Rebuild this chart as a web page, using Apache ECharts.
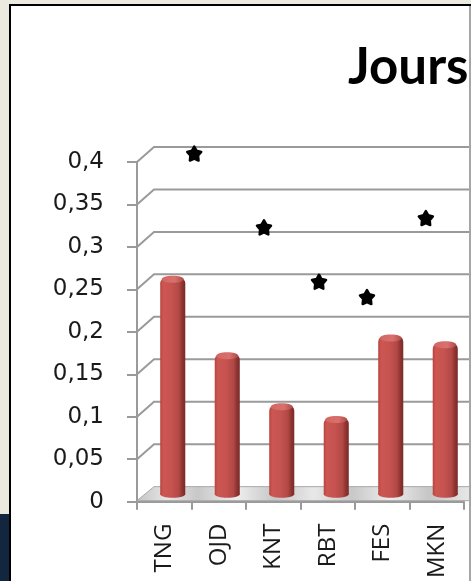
<!DOCTYPE html>
<html>
<head>
<meta charset="utf-8">
<script src="https://cdn.jsdelivr.net/npm/echarts@6/dist/echarts.min.js"></script>
<style>
  html, body { margin: 0; padding: 0; background: #fff; }
  #chart { width: 471px; height: 581px; }
</style>
</head>
<body>
<div id="chart"></div>
<script>
// Stations and their values
const categories = ['TNG', 'OJD', 'KNT', 'RBT', 'FES', 'MKN'];
const barValues = [0.253, 0.163, 0.103, 0.088, 0.184, 0.176];

// Star markers: position along the category span (0..6) and value
const starPositions = [1.05, 2.33, 3.34, 4.22, 5.30];
const starValues = [0.41, 0.323, 0.259, 0.241, 0.334];

// Value axis ticks
const yTicks = [0, 0.05, 0.1, 0.15, 0.2, 0.25, 0.3, 0.35, 0.4];

// Depth of the 3D box (pixels)
const DX = 17, DY = -15;
const GRID_COLOR = '#9a9a9a';

const STAR_PATH = 'path://M50 0 L66.2 27.8 L97.6 34.5 L76.2 58.5 L79.4 90.5 L50 77.5 L20.6 90.5 L23.8 58.5 L2.4 34.5 L33.8 27.8 Z';

function renderFrame(params, api) {
  const children = [];
  const l0 = api.coord([0, 0]);
  const r0 = api.coord([6, 0]);
  // floor
  children.push({
    type: 'polygon',
    shape: { points: [[l0[0], l0[1] - 1], [r0[0] + 40, l0[1] - 1], [r0[0] + 40 + DX, l0[1] + DY], [l0[0] + DX, l0[1] + DY]] },
    style: {
      fill: new echarts.graphic.LinearGradient(0, 0, 1, 0.3, [
        { offset: 0, color: '#c4c4c4' }, { offset: 0.08, color: '#e6e6e6' },
        { offset: 0.16, color: '#c8c8c8' }, { offset: 0.26, color: '#eeeeee' },
        { offset: 0.36, color: '#c6c6c6' }, { offset: 0.46, color: '#e8e8e8' },
        { offset: 0.56, color: '#c8c8c8' }, { offset: 0.66, color: '#ececec' },
        { offset: 0.76, color: '#c6c6c6' }, { offset: 0.86, color: '#e6e6e6' },
        { offset: 1, color: '#c8c8c8' }
      ]),
      stroke: '#a8a8a8', lineWidth: 1
    }
  });
  // back-wall gridlines with their diagonal on the side wall
  yTicks.forEach(function (v) {
    if (v === 0) return;
    const p = api.coord([0, v]);
    children.push({
      type: 'polyline',
      shape: { points: [[p[0], p[1]], [p[0] + DX, p[1] + DY], [r0[0] + 60, p[1] + DY]] },
      style: { stroke: GRID_COLOR, lineWidth: 2, fill: null }
    });
  });
  return { type: 'group', children: children };
}

function renderBar(params, api) {
  const idx = api.value(0);
  const v = api.value(1);
  const base = api.coord([idx, 0]);
  const top = api.coord([idx, v]);
  const w = api.size([1, 0])[0] * 0.46;
  const cx = base[0] + DX / 2;
  const by = base[1] + DY / 2;
  const ty = top[1] + DY / 2;
  const ry = 3.5;
  const body = new echarts.graphic.LinearGradient(0, 0, 1, 0, [
    { offset: 0, color: '#b9443f' },
    { offset: 0.12, color: '#cc5652' },
    { offset: 0.45, color: '#c65350' },
    { offset: 0.75, color: '#b14845' },
    { offset: 0.88, color: '#8e3431' },
    { offset: 1, color: '#7a2b29' }
  ]);
  return {
    type: 'group',
    children: [
      { type: 'ellipse', shape: { cx: cx, cy: by, rx: w / 2, ry: ry }, style: { fill: body } },
      { type: 'rect', shape: { x: cx - w / 2, y: ty - 1, width: w, height: by - ty + 1, r: [5, 5, 0, 0] }, style: { fill: body } },
      { type: 'ellipse', shape: { cx: cx, cy: ty, rx: w / 2 - 1.5, ry: ry },
        style: { fill: new echarts.graphic.LinearGradient(0, 0, 1, 0, [
          { offset: 0, color: '#d46663' }, { offset: 0.6, color: '#d8716e' }, { offset: 1, color: '#b04a47' }
        ]) } }
    ]
  };
}

const chart = echarts.init(document.getElementById('chart'), null, { renderer: 'canvas' });

chart.setOption({
  backgroundColor: '#ffffff',
  animation: false,
  graphic: [
    { type: 'rect', shape: { x: 0, y: 0, width: 471, height: 5 }, style: { fill: '#ece9df' }, z: -10 },
    { type: 'rect', shape: { x: 0, y: 0, width: 9, height: 514 }, style: { fill: '#ece9df' }, z: -10 },
    { type: 'rect', shape: { x: 0, y: 514, width: 9, height: 67 }, style: { fill: '#12263f' }, z: -10 },
    { type: 'rect', shape: { x: 9, y: 4, width: 462, height: 2 }, style: { fill: '#000' }, z: -9 },
    { type: 'rect', shape: { x: 9, y: 4, width: 2, height: 577 }, style: { fill: '#000' }, z: -9 },
    { type: 'rect', shape: { x: 469, y: 6, width: 2, height: 575 }, style: { fill: '#a6a6a6' }, z: 10 },
    {
      type: 'text', left: 348, top: 42,
      style: { text: 'Jours', fill: '#000', font: 'bold 51px Lato' }
    }
  ],
  grid: { left: 137, top: 162, width: 327, height: 340, containLabel: false },
  xAxis: [
    {
      type: 'category',
      data: categories,
      axisLine: { show: true, lineStyle: { color: GRID_COLOR, width: 2 } },
      axisTick: { show: true, length: 8, lineStyle: { color: GRID_COLOR, width: 2 } },
      axisLabel: { rotate: 90, margin: 22, color: '#1a1a1a', fontFamily: 'Open Sans', fontSize: 24 },
      splitLine: { show: false }
    },
    { type: 'value', min: 0, max: 6, show: false, splitLine: { show: false } }
  ],
  yAxis: {
    type: 'value',
    min: 0, max: 0.4, interval: 0.05,
    axisLine: { show: true, lineStyle: { color: GRID_COLOR, width: 2 } },
    axisTick: { show: true, length: 10, lineStyle: { color: GRID_COLOR, width: 2 } },
    axisLabel: {
      margin: 33, color: '#1a1a1a', fontFamily: 'DejaVu Sans', fontSize: 23,
      formatter: function (v) { return String(+v.toFixed(2)).replace('.', ','); }
    },
    splitLine: { show: false }
  },
  series: [
    {
      type: 'custom', xAxisIndex: 1, yAxisIndex: 0, z: 1,
      renderItem: renderFrame, data: [[0, 0]], silent: true, clip: false
    },
    {
      type: 'custom', xAxisIndex: 0, yAxisIndex: 0, z: 3,
      renderItem: renderBar, clip: false,
      data: barValues.map(function (v, i) { return [i, v]; })
    },
    {
      type: 'scatter', xAxisIndex: 1, yAxisIndex: 0, z: 5, clip: false,
      symbol: STAR_PATH, symbolSize: 14,
      itemStyle: { color: '#000', borderColor: '#000', borderWidth: 2.5, borderJoin: 'round', opacity: 1 },
      data: starPositions.map(function (x, i) { return [x, starValues[i]]; })
    }
  ]
});
</script>
</body>
</html>
